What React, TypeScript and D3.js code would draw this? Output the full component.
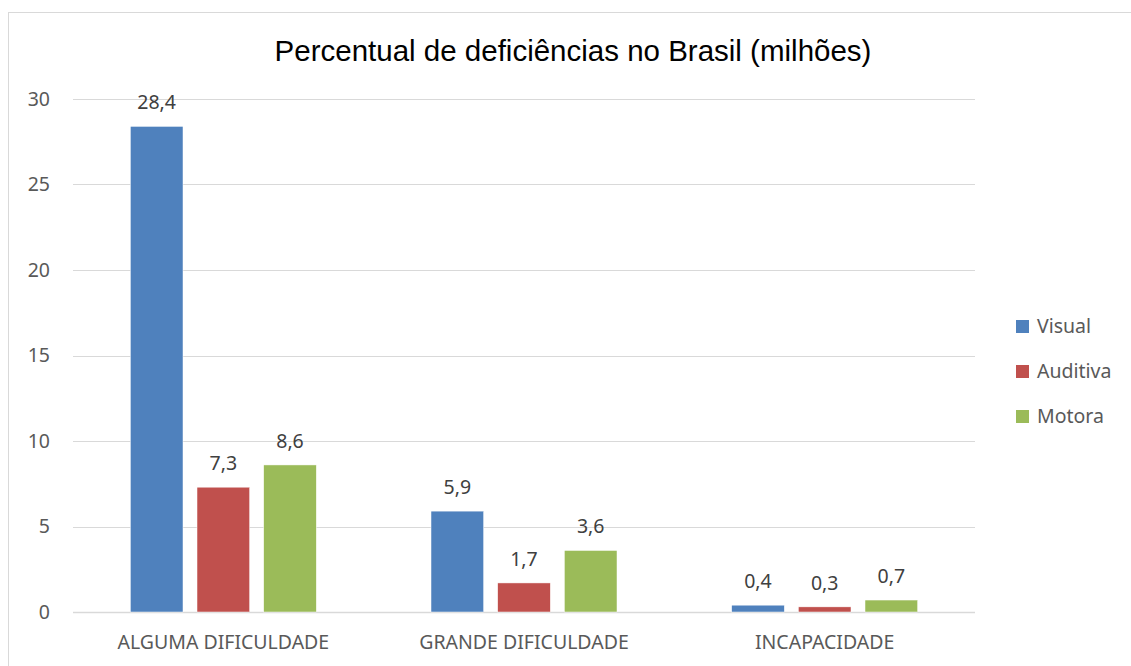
import React from 'react';
import * as d3 from 'd3';

const categories = ['ALGUMA DIFICULDADE', 'GRANDE DIFICULDADE', 'INCAPACIDADE'];
const seriesNames = ['Visual', 'Auditiva', 'Motora'];
const visual = [28.4, 5.9, 0.4];
const auditiva = [7.3, 1.7, 0.3];
const motora = [8.6, 3.6, 0.7];
const yTicks = [0, 5, 10, 15, 20, 25, 30];
const colors = ['#4f81bd', '#c0504d', '#9bbb59'];

const seriesValues = [visual, auditiva, motora];

function App() {
  const W = 1131;
  const H = 666;
  const left = 73;
  const right = 975;
  const top = 99;
  const bottom = 612;

  const y = d3.scaleLinear().domain([0, 30]).range([bottom, top]);
  const x0 = d3.scaleBand().domain(categories).range([left, right]).padding(0);
  const groupW = 186;
  const x1 = d3.scaleBand().domain(seriesNames).range([0, groupW]).paddingInner(0.21).paddingOuter(0);
  const groupOff = (x0.bandwidth() - groupW) / 2;
  const font = "'Noto Sans', 'Open Sans', sans-serif";
  const fs = 19.5;

  return (
    <svg width={W} height={H} style={{ position: 'absolute', left: 0, top: 0, background: '#fff' }}>
      <rect x={8.5} y={12.5} width={1130} height={700} fill="#fff" stroke="#d9d9d9" strokeWidth={1} />
      <text x={573} y={61} textAnchor="middle" fontFamily="'Liberation Sans', Arial, sans-serif" fontSize={29.5} fill="#000">
        Percentual de deficiências no Brasil (milhões)
      </text>
      {yTicks.map((t) => (
        <g key={t}>
          <line x1={left} x2={right} y1={Math.round(y(t)) + 0.5} y2={Math.round(y(t)) + 0.5} stroke="#d9d9d9" strokeWidth={t === 0 ? 1.5 : 1} />
          <text x={50} y={y(t)} dy="0.35em" textAnchor="end" fontFamily={font} fontSize={fs} fill="#595959">
            {t}
          </text>
        </g>
      ))}
      {categories.map((c, ci) => (
        <g key={c} transform={`translate(${(x0(c) as number) + groupOff},0)`}>
          {seriesNames.map((s, si) => {
            const v = seriesValues[si][ci];
            const bx = x1(s) as number;
            return (
              <g key={s}>
                <rect x={bx} y={y(v)} width={x1.bandwidth()} height={bottom - y(v)} fill={colors[si]} stroke="#fff" strokeWidth={0.5} />
                <text x={bx + x1.bandwidth() / 2} y={y(v) - 17} textAnchor="middle" fontFamily={font} fontSize={fs} fill="#404040">
                  {String(v).replace('.', ',')}
                </text>
              </g>
            );
          })}
        </g>
      ))}
      {categories.map((c) => (
        <text key={c} x={(x0(c) as number) + x0.bandwidth() / 2} y={642} dy="0.35em" textAnchor="middle" fontFamily={font} fontSize={fs} fill="#595959">
          {c}
        </text>
      ))}
      {seriesNames.map((s, i) => (
        <g key={s} transform={`translate(1016,${320 + i * 45})`}>
          <rect x={0} y={0} width={13} height={13} fill={colors[i]} />
          <text x={21} y={6.5} dy="0.35em" fontFamily={font} fontSize={fs} fill="#595959">
            {s}
          </text>
        </g>
      ))}
    </svg>
  );
}

export default App;
